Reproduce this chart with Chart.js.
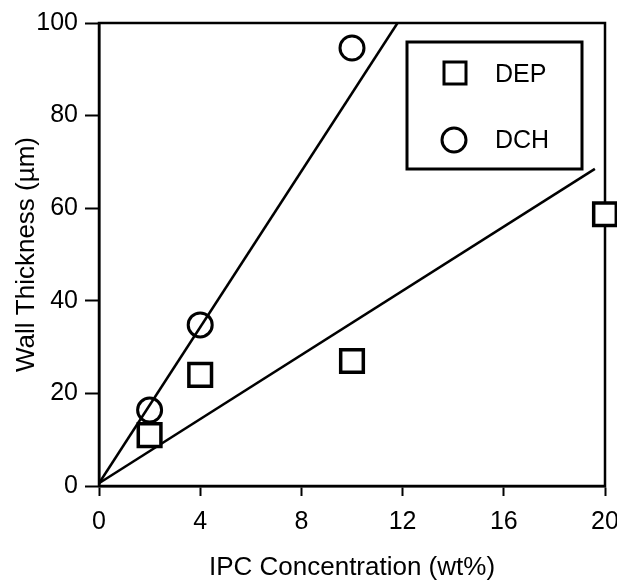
<!DOCTYPE html>
<html>
<head>
<meta charset="utf-8">
<script src="https://cdn.jsdelivr.net/npm/chart.js@4.4.1/dist/chart.umd.min.js"></script>
<style>
html, body { margin: 0; padding: 0; background: #fff; }
</style>
</head>
<body>
<canvas id="myChart" width="617" height="583"></canvas>
<script>
// measured points
var depX = [2, 4, 10, 20];
var depY = [11, 24, 27, 58.7];
var dchX = [2, 4, 10];
var dchY = [16.4, 34.8, 94.6];
// fitted lines (end points)
var depFitX = [0, 19.6];
var depFitY = [0.6, 68.5];
var dchFitX = [0, 11.8];
var dchFitY = [0.6, 100];
var xTicks = [0, 4, 8, 12, 16, 20];
var yTicks = [0, 20, 40, 60, 80, 100];

function pts(xs, ys) {
    return xs.map(function (x, i) { return { x: x, y: ys[i] }; });
}

var FONT = '"Liberation Sans", Arial, Helvetica, sans-serif';

// no extra room for overhanging tick labels, the layout padding handles it
function noPad(s) {
    s.paddingLeft = s.paddingRight = s.paddingTop = s.paddingBottom = 0;
}

// box round the plot area (top and right sides too)
var frame = {
    id: 'frame',
    beforeDatasetsDraw: function (chart) {
        var a = chart.chartArea, ctx = chart.ctx;
        ctx.save();
        ctx.strokeStyle = '#000';
        ctx.lineWidth = 2.5;
        ctx.strokeRect(a.left, a.top, a.right - a.left, a.bottom - a.top);
        ctx.restore();
    }
};

// legend box in the upper right corner
var boxLegend = {
    id: 'boxLegend',
    afterDraw: function (chart) {
        var ctx = chart.ctx;
        ctx.save();
        ctx.fillStyle = '#fff';
        ctx.fillRect(407, 42, 175, 127);
        ctx.strokeStyle = '#000';
        ctx.lineWidth = 3;
        ctx.strokeRect(407, 42, 175, 127);
        ctx.strokeRect(444, 62, 22, 22);
        ctx.beginPath();
        ctx.arc(454, 140, 12, 0, Math.PI * 2);
        ctx.stroke();
        ctx.fillStyle = '#000';
        ctx.font = '25px ' + FONT;
        ctx.textBaseline = 'middle';
        ctx.fillText(chart.data.datasets[0].label, 495, 75);
        ctx.fillText(chart.data.datasets[1].label, 495, 141);
        ctx.restore();
    }
};

var ctx = document.getElementById('myChart');
var myChart = new Chart(ctx, {
    type: 'scatter',
    data: {
        datasets: [{
            label: 'DEP',
            data: pts(depX, depY),
            pointStyle: 'rect',
            pointRadius: 16,
            pointBorderWidth: 3.5,
            borderColor: '#000',
            backgroundColor: '#fff',
            showLine: false,
            clip: false,
            order: 1
        }, {
            label: 'DCH',
            data: pts(dchX, dchY),
            pointStyle: 'circle',
            pointRadius: 12,
            pointBorderWidth: 3,
            borderColor: '#000',
            backgroundColor: 'rgba(0,0,0,0)',
            showLine: false,
            clip: false,
            order: 1
        }, {
            label: 'DEP fit',
            data: pts(depFitX, depFitY),
            showLine: true,
            pointRadius: 0,
            borderColor: '#000',
            borderWidth: 2.5,
            clip: false,
            order: 2
        }, {
            label: 'DCH fit',
            data: pts(dchFitX, dchFitY),
            showLine: true,
            pointRadius: 0,
            borderColor: '#000',
            borderWidth: 2.5,
            clip: false,
            order: 2
        }]
    },
    options: {
        responsive: false,
        animation: false,
        devicePixelRatio: 1,
        layout: { autoPadding: false, padding: { top: 23, right: 12, left: 0, bottom: 0 } },
        plugins: {
            legend: { display: false },
            tooltip: { enabled: false }
        },
        scales: {
            x: {
                type: 'linear',
                min: 0,
                max: 20,
                afterBuildTicks: function (s) { s.ticks = xTicks.map(function (v) { return { value: v }; }); },
                afterFit: function (s) { s.height = 97; noPad(s); },
                ticks: { color: '#000', font: { family: FONT, size: 25 }, padding: 11, maxRotation: 0 },
                grid: { drawOnChartArea: false, drawTicks: true, tickLength: 10, tickWidth: 2, tickColor: '#000' },
                border: { display: true, color: '#000', width: 2.5 },
                title: {
                    display: true,
                    text: 'IPC Concentration (wt%)',
                    color: '#000',
                    font: { family: FONT, size: 26 },
                    padding: { top: 0, bottom: 0 }
                }
            },
            y: {
                type: 'linear',
                min: 0,
                max: 100,
                afterBuildTicks: function (s) { s.ticks = yTicks.map(function (v) { return { value: v }; }); },
                afterFit: function (s) { s.width = 99; noPad(s); },
                ticks: { color: '#000', font: { family: FONT, size: 25 }, padding: 7 },
                grid: { drawOnChartArea: false, drawTicks: true, tickLength: 14, tickWidth: 2, tickColor: '#000' },
                border: { display: true, color: '#000', width: 2.5 },
                title: {
                    display: true,
                    text: 'Wall Thickness (µm)',
                    color: '#000',
                    font: { family: FONT, size: 26 },
                    padding: { top: 11, bottom: 0 }
                }
            }
        }
    },
    plugins: [frame, boxLegend]
});
</script>
</body>
</html>
